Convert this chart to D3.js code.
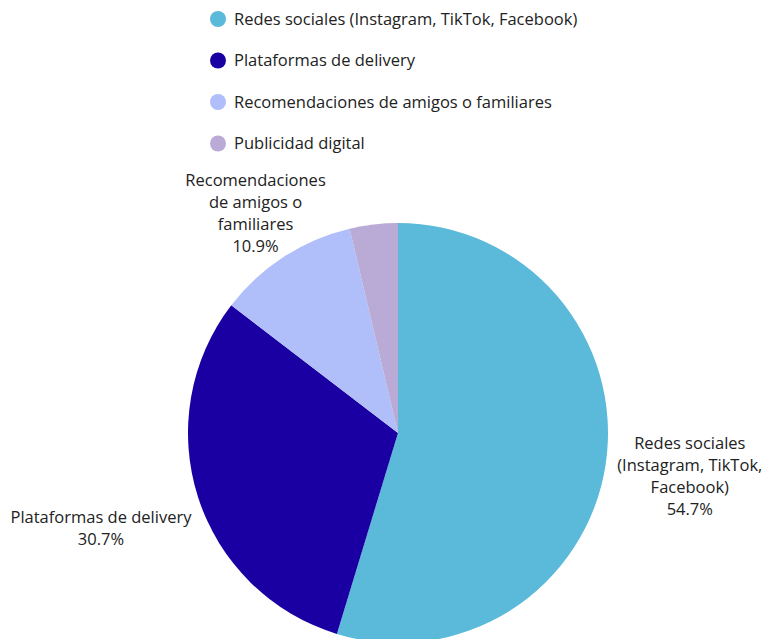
<!DOCTYPE html>
<html>
<head>
<meta charset="utf-8">
<script src="https://cdn.jsdelivr.net/npm/d3@7"></script>
<style>
  html, body { margin: 0; padding: 0; background: #fff; }
  svg { display: block; font-family: "Open Sans", sans-serif; }
</style>
</head>
<body>
<svg id="chart" width="761" height="639"></svg>
<script>
// Canales por los que se descubren restaurantes (% de respuestas)
const categories = [
  "Redes sociales (Instagram, TikTok, Facebook)",
  "Plataformas de delivery",
  "Recomendaciones de amigos o familiares",
  "Publicidad digital"
];
const values = [54.7, 30.7, 10.9, 3.7];
const colors = ["#5bb9d9", "#1a00a3", "#b0befa", "#baaad6"];
// Wrapped slice labels (the smallest slice carries no label)
const labelLines = [
  ["Redes sociales", "(Instagram, TikTok,", "Facebook)"],
  ["Plataformas de delivery"],
  ["Recomendaciones", "de amigos o", "familiares"],
  null
];

const svg = d3.select("#chart");
const cx = 398, cy = 433, radius = 210;
const fontSize = 16.5;
const textColor = "#222";

const data = categories.map((c, i) => ({ name: c, value: values[i], color: colors[i], lines: labelLines[i] }));

// Legend
const legend = svg.append("g").attr("transform", "translate(218,19)");
const legendStep = 41.5;
const item = legend.selectAll("g").data(data).join("g")
  .attr("transform", (d, i) => `translate(0,${i * legendStep})`);
item.append("circle").attr("r", 8).attr("fill", d => d.color);
item.append("text")
  .attr("x", 16).attr("dy", "0.35em")
  .attr("font-size", fontSize).attr("fill", textColor)
  .text(d => d.name);

// Pie
const pie = d3.pie().sort(null).value(d => d.value);
const arc = d3.arc().innerRadius(0).outerRadius(radius);
const arcs = pie(data);

const g = svg.append("g").attr("transform", `translate(${cx},${cy})`);
g.selectAll("path").data(arcs).join("path")
  .attr("d", arc)
  .attr("fill", d => d.data.color);

// Label distances from the centre, per slice
const labelRadius = [295, 312, 262, 0];
const lineHeight = 22;
const labels = svg.append("g");
arcs.forEach((a, i) => {
  if (!a.data.lines) return;
  const mid = (a.startAngle + a.endAngle) / 2;
  const r = labelRadius[i];
  const x = cx + Math.sin(mid) * r;
  const y = cy - Math.cos(mid) * r;
  const lines = a.data.lines.concat([d3.format(".1f")(a.data.value) + "%"]);
  const t = labels.append("text")
    .attr("text-anchor", "middle")
    .attr("font-size", fontSize).attr("fill", textColor);
  const top = y - (lines.length - 1) * lineHeight / 2;
  lines.forEach((ln, k) => {
    t.append("tspan").attr("x", x).attr("y", top + k * lineHeight).attr("dy", "0.35em").text(ln);
  });
});
</script>
</body>
</html>
